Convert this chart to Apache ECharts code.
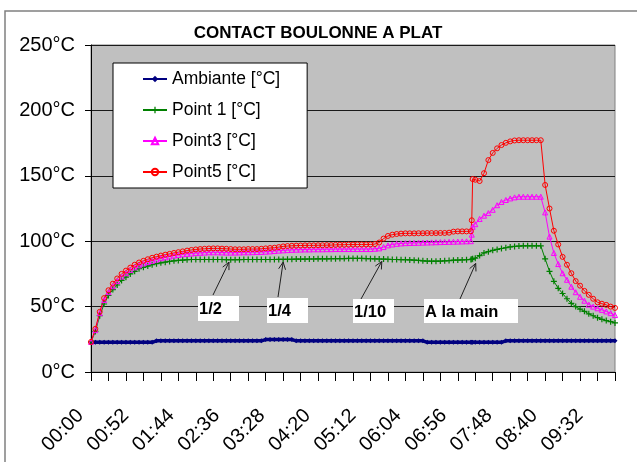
<!DOCTYPE html>
<html>
<head>
<meta charset="utf-8">
<script src="https://cdn.jsdelivr.net/npm/echarts@6/dist/echarts.min.js"></script>
<style>
  html, body { margin: 0; padding: 0; background: #fff; }
  #chart { width: 637px; height: 462px; }
</style>
</head>
<body>
<div id="chart"></div>
<script>
// Elapsed time of each sample, in minutes (one row per hour)
const minutes = [
  0, 5, 10, 15, 20, 25, 30, 35, 40, 45, 50, 55,
  60, 65, 70, 75, 80, 85, 90, 95, 100, 105, 110, 115,
  120, 125, 130, 135, 140, 145, 150, 155, 160, 165, 170, 175,
  180, 185, 190, 195, 200, 205, 210, 215, 220, 225, 230, 235,
  240, 245, 250, 255, 260, 265, 270, 275, 280, 285, 290, 295,
  300, 305, 310, 315, 320, 325, 330, 335, 340, 345, 350, 355,
  360, 365, 370, 375, 380, 385, 390, 395, 400, 405, 410, 415,
  420, 425, 430, 435, 436, 437, 440, 445, 450, 455, 460, 465, 470, 475,
  480, 485, 490, 495, 500, 505, 510, 515, 520, 525, 530, 535,
  540, 545, 550, 555, 560, 565, 570, 575, 580, 585, 590, 595,
  600
];

// Temperatures in °C
const ambiante = [
  22.7, 22.7, 22.7, 22.7, 22.7, 22.7, 22.7, 22.7, 22.7, 22.7, 22.7, 22.7,
  22.7, 22.7, 22.7, 23.8, 23.8, 23.8, 23.8, 23.8, 23.8, 23.8, 23.8, 23.8,
  23.8, 23.8, 23.8, 23.8, 23.8, 23.8, 23.8, 23.8, 23.8, 23.8, 23.8, 23.8,
  23.8, 23.8, 23.8, 23.8, 24.8, 24.8, 24.8, 24.8, 24.8, 24.8, 24.8, 23.8,
  23.8, 23.8, 23.8, 23.8, 23.8, 23.8, 23.8, 23.8, 23.8, 23.8, 23.8, 23.8,
  23.8, 23.8, 23.8, 23.8, 23.8, 23.8, 23.8, 23.8, 23.8, 23.8, 23.8, 23.8,
  23.8, 23.8, 23.8, 23.8, 23.8, 22.7, 22.7, 22.7, 22.7, 22.7, 22.7, 22.7,
  22.7, 22.7, 22.7, 22.7, 22.7, 22.7, 22.7, 22.7, 22.7, 22.7, 22.7, 22.7, 22.7, 23.8,
  23.8, 23.8, 23.8, 23.8, 23.8, 23.8, 23.8, 23.8, 23.8, 23.8, 23.8, 23.8,
  23.8, 23.8, 23.8, 23.8, 23.8, 23.8, 23.8, 23.8, 23.8, 23.8, 23.8, 23.8,
  23.8
];

const point1 = [
  23, 31, 43, 52, 58.5, 63, 66.5, 70, 72.5, 75, 77, 79,
  80, 81, 82, 82.8, 83.5, 84, 84.5, 85, 85.3, 85.6, 85.8, 86,
  86, 86, 86, 86, 86, 86, 86, 85.8, 85.8, 85.8, 85.9, 86,
  86, 86, 86, 86, 86, 86, 86, 86.1, 86.1, 86.2, 86.2, 86.3,
  86.3, 86.3, 86.4, 86.4, 86.5, 86.5, 86.5, 86.6, 86.6, 86.7, 86.7, 86.8,
  86.8, 86.8, 86.8, 86.7, 86.6, 86.5, 86.4, 86.3, 86.2, 86, 86, 85.9,
  85.8, 85.7, 85.5, 85.3, 85, 84.8, 84.7, 84.7, 84.8, 85, 85.2, 85.5,
  85.6, 85.7, 85.8, 86, 86.2, 86.5, 87, 89, 91, 92, 93, 93.7, 94.4, 95,
  95.6, 96, 96.3, 96.5, 96.5, 96.5, 96.5, 96.5, 86.5, 77, 69.3, 64,
  60, 56, 52.5, 50, 48, 46.4, 44.5, 43, 41.5, 40.3, 39.3, 38.5,
  37.5
];

const point3 = [
  23, 32, 45, 55, 61, 65.5, 69.5, 73, 75.5, 78, 80, 81.5,
  83, 84, 85, 86, 87, 87.7, 88.3, 89, 89.5, 90, 90.3, 90.6,
  90.9, 91.1, 91.3, 91.5, 91.5, 91.5, 91.4, 91.3, 91.3, 91.3, 91.4, 91.5,
  91.5, 91.6, 91.7, 91.8, 92, 92.2, 92.5, 92.8, 93, 93.2, 93.4, 93.5,
  93.6, 93.7, 93.7, 93.8, 93.8, 93.8, 93.9, 93.9, 94, 94, 94, 94,
  94, 94, 94, 94, 94, 94.2, 94.5, 95.5, 96.8, 97.5, 98, 98.3,
  98.5, 98.6, 98.7, 98.8, 98.9, 99, 99.1, 99.2, 99.3, 99.4, 99.5, 99.6,
  99.7, 99.8, 99.9, 100, 105, 111, 113, 117, 119.5, 121.5, 124, 127.5, 130, 131.5,
  132.7, 133.5, 134, 134, 134, 134, 134, 134, 122, 103.5, 91, 82.5,
  75.5, 70.5, 65.2, 61, 57.5, 54.5, 51.5, 50, 48.7, 47.5, 46.3, 45,
  43.5
];

const point5 = [
  23, 33, 46, 56.5, 62.5, 67.5, 71.5, 75, 77.5, 79.8, 82, 83.7,
  85, 86.2, 87.3, 88.2, 89, 89.7, 90.3, 91, 91.6, 92.2, 92.8, 93.3,
  93.7, 94, 94.2, 94.4, 94.5, 94.5, 94.3, 94.2, 94, 93.8, 93.8, 93.8,
  94, 94, 94, 94.2, 94.5, 94.8, 95, 95.5, 96, 96.3, 96.5, 96.6,
  96.7, 96.8, 96.8, 96.8, 96.9, 96.9, 97, 97, 97.2, 97.3, 97.3, 97.4,
  97.4, 97.5, 97.5, 97.5, 97.5, 97.8, 99, 102, 104, 105, 105.5, 105.8,
  106, 106, 106, 106.1, 106.1, 106.2, 106.2, 106.2, 106.3, 106.3, 106.5, 107.3,
  107.5, 107.5, 107.5, 107.6, 116, 147.5, 147, 146, 152, 162, 167.5, 171, 173.5, 175.2,
  176.3, 177, 177.2, 177.2, 177.2, 177.2, 177.2, 177.2, 143, 125, 108, 97.5,
  88, 82, 75.5, 69.5, 66, 62, 59, 56, 53.3, 52.2, 51.3, 50,
  49
];

const seriesNames = ['Ambiante [°C]', 'Point 1 [°C]', 'Point3 [°C]', 'Point5 [°C]'];
const titleText = 'CONTACT BOULONNE A PLAT';

// Hand-written notes on the chart: label and the [minute, °C] point the arrow aims at
const noteLabels = ['1/2', '1/4', '1/10', 'A la main'];
const noteTargets = [[158, 84], [220, 84], [333, 84.5], [440.5, 83]];

const FONT = '"Liberation Sans", Arial, sans-serif';

// label boxes (x, y, w, h) and arrow tails, in pixels
const noteBoxes = [[198, 296, 41, 25], [267, 298, 41, 25], [353, 299, 41, 24], [424, 299, 94, 24]];
const noteTails = [[213, 295], [278, 297], [361, 299], [460, 299]];

const pad2 = n => (n < 10 ? '0' : '') + n;
const clock = v => pad2(Math.floor(v / 60)) + ':' + pad2(Math.round(v % 60));

const PLUS = 'path://M4,0h2v4h4v2h-4v4h-2v-4h-4v-2h4z';

function makeSeries(name, values, color, symbol, size, hollow, lw) {
  return {
    name: name,
    type: 'line',
    data: minutes.map((m, i) => [m, values[i]]),
    symbol: symbol,
    symbolSize: size,
    showSymbol: true,
    showAllSymbol: true,
    lineStyle: { color: color, width: lw },
    itemStyle: hollow
      ? { color: 'rgba(0,0,0,0)', borderColor: color, borderWidth: 1 }
      : { color: color, borderWidth: 0 },
    emphasis: { disabled: true },
    animation: false
  };
}

const chart = echarts.init(document.getElementById('chart'), null, { renderer: 'canvas' });

const option = {
  backgroundColor: '#fff',
  animation: false,
  title: {
    text: titleText,
    left: 313,
    top: 20,
    textAlign: 'center',
    textStyle: { fontFamily: FONT, fontSize: 17, fontWeight: 'bold', color: '#000' }
  },
  legend: {
    orient: 'vertical',
    left: 113,
    top: 63,
    padding: [7, 27, 7, 29],
    itemGap: 13,
    itemWidth: 24,
    itemHeight: 8,
    backgroundColor: '#fff',
    borderColor: '#000',
    borderWidth: 1,
    borderRadius: 0,
    selectedMode: false,
    textStyle: { fontFamily: FONT, fontSize: 17.5, color: '#000' },
    data: seriesNames
  },
  grid: {
    left: 91, top: 45, width: 524, height: 327,
    show: true, backgroundColor: '#C0C0C0', borderColor: '#808080', borderWidth: 1
  },
  xAxis: [
    {
      type: 'value', min: 0, max: 600, interval: 52, position: 'bottom',
      axisLine: { show: true, lineStyle: { color: '#000', width: 1 } },
      axisTick: { show: false },
      splitLine: { show: false },
      axisLabel: {
        rotate: 45, margin: 30, padding: [0, 15, 0, 0],
        showMaxLabel: false, showMinLabel: true,
        fontFamily: FONT, fontSize: 20, color: '#000',
        formatter: clock
      }
    },
    {
      type: 'value', min: 0, max: 600, interval: 20, position: 'bottom',
      axisLine: { show: true, lineStyle: { color: '#000', width: 1 } },
      axisTick: { show: true, inside: false, length: 9, lineStyle: { color: '#000', width: 1 } },
      axisLabel: { show: false },
      splitLine: { show: false }
    }
  ],
  yAxis: {
    type: 'value', min: 0, max: 250, interval: 50,
    axisLine: { show: true, lineStyle: { color: '#000', width: 1 } },
    axisTick: { show: true, inside: false, length: 6, lineStyle: { color: '#000' } },
    splitLine: { show: true, lineStyle: { color: '#1a1a1a', width: 1 } },
    axisLabel: {
      margin: 16, fontFamily: FONT, fontSize: 20, color: '#000',
      formatter: v => v + '°C'
    }
  },
  series: [
    makeSeries(seriesNames[0], ambiante, '#000080', 'diamond', 5, false, 3.5),
    makeSeries(seriesNames[1], point1, '#008000', PLUS, 6, false, 1),
    makeSeries(seriesNames[2], point3, '#FF00FF', 'triangle', 5, true, 1),
    makeSeries(seriesNames[3], point5, '#FF0000', 'circle', 5, true, 1)
  ]
};

chart.setOption(option);

// Frame around the whole chart, note boxes and arrows
const elements = [{
  type: 'rect', z: 0, silent: true,
  shape: { x: 5, y: 11, width: 700, height: 500 },
  style: { fill: 'none', stroke: '#808080', lineWidth: 1.5 }
}];

noteLabels.forEach((label, i) => {
  const [bx, by, bw, bh] = noteBoxes[i];
  const tip = chart.convertToPixel({ gridIndex: 0 }, noteTargets[i]);
  const tail = noteTails[i];
  elements.push({
    type: 'rect', z: 100, silent: true,
    shape: { x: bx, y: by, width: bw, height: bh },
    style: { fill: '#fff', stroke: null }
  });
  elements.push({
    type: 'text', z: 101, silent: true,
    x: bx + 1, y: by + bh / 2 + 1,
    style: {
      text: label, fill: '#000', font: 'bold 16.5px ' + FONT,
      textAlign: 'left', textVerticalAlign: 'middle'
    }
  });
  const ang = Math.atan2(tip[1] - tail[1], tip[0] - tail[0]);
  const headLen = 8, spread = 0.45;
  const h1 = [tip[0] - headLen * Math.cos(ang - spread), tip[1] - headLen * Math.sin(ang - spread)];
  const h2 = [tip[0] - headLen * Math.cos(ang + spread), tip[1] - headLen * Math.sin(ang + spread)];
  elements.push({
    type: 'polyline', z: 102, silent: true,
    shape: { points: [tail, tip] },
    style: { stroke: '#202020', lineWidth: 1, fill: null }
  });
  elements.push({
    type: 'polyline', z: 102, silent: true,
    shape: { points: [h1, tip, h2] },
    style: { stroke: '#202020', lineWidth: 1, fill: null }
  });
});

chart.setOption({ graphic: { elements: elements } });
</script>
</body>
</html>
